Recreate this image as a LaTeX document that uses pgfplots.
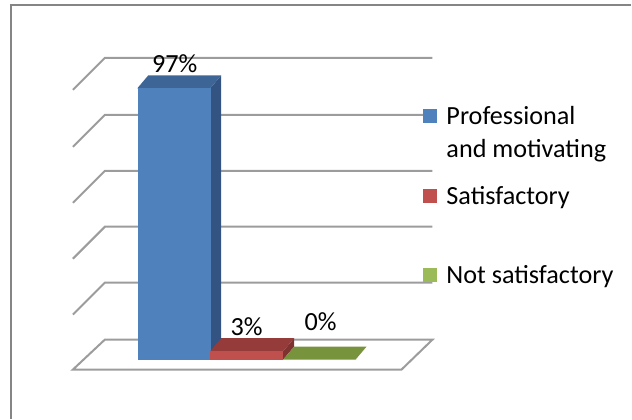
\documentclass[border=0pt]{standalone}
\usepackage{pgfplots}
\pgfplotsset{compat=1.18}
\usepackage{fontspec}
\setmainfont{Carlito}

\definecolor{blueF}{HTML}{4F81BD}
\definecolor{blueT}{HTML}{3D6596}
\definecolor{blueS}{HTML}{335482}
\definecolor{redF}{HTML}{C0504D}
\definecolor{redT}{HTML}{953B39}
\definecolor{redS}{HTML}{7E3331}
\definecolor{greenT}{HTML}{77933C}
\definecolor{greenL}{HTML}{9BBB59}
\definecolor{gridc}{HTML}{9C9C9C}
\definecolor{framec}{HTML}{858585}

\begin{document}
\fontsize{26.2bp}{33bp}\selectfont
\begin{tikzpicture}
\begin{axis}[
    scale only axis,
    width=632bp, height=419bp,
    xmin=0, xmax=632,
    ymin=-21.071, ymax=128.571,
    hide axis,
    clip=false,
    /pgf/number format/assume math mode=true,
    legend cell align=left,
    legend style={
        at={(axis cs:423,90.0)}, anchor=north west,
        draw=none, fill=none, inner sep=0pt, outer sep=0pt,
        row sep=62.5bp,
        nodes={inner sep=0pt, text height=17bp, text depth=0pt},
        /tikz/every odd column/.style={column sep=9bp},
    },
]
% page size and chart frame
\addplot[draw=none, forget plot] coordinates {(0,-21.071) (632,128.571)};
\addplot[framec, line width=1.5bp, forget plot] coordinates {(11,-21.071) (11,126.8) (632,126.8)};

% floor
\addplot[gridc, line width=2bp, fill=white, forget plot]
    coordinates {(105,7.14) (433,7.14) (402,-3.57) (73,-3.57)} -- cycle;

% back wall gridlines (20, 40, 60, 80, 100 %)
\addplot[gridc, line width=2bp, forget plot] coordinates {(73,16.07) (105,27.5) (433,27.5)};
\addplot[gridc, line width=2bp, forget plot] coordinates {(73,36.07) (105,47.5) (433,47.5)};
\addplot[gridc, line width=2bp, forget plot] coordinates {(73,56.07) (105,67.5) (433,67.5)};
\addplot[gridc, line width=2bp, forget plot] coordinates {(73,76.07) (105,87.5) (433,87.5)};
\addplot[gridc, line width=2bp, forget plot] coordinates {(73,96.43) (105,107.86) (433,107.86)};

% Professional and motivating: 97
\addplot[fill=blueS, draw=none, forget plot]
    coordinates {(210.5,0) (210.5,97) (221.5,101.64) (221.5,4.64)} -- cycle;
\addplot[fill=blueT, draw=none, forget plot]
    coordinates {(137.5,97) (210.5,97) (221.5,101.64) (148.5,101.64)} -- cycle;
\addplot[ybar, bar width=73, bar shift=0pt, fill=blueF, draw=none,
    legend image code/.code={\fill[blueF] (0bp,-7bp) rectangle (15bp,7bp);},
    nodes near coords={\pgfmathprintnumber{\pgfplotspointmeta}\%},
    every node near coord/.append style={anchor=base, yshift=16bp, text=black}]
    coordinates {(175,97)};
\addlegendentry{\begin{tabular}[t]{@{}l@{}}Professional\\and motivating\end{tabular}}

% Satisfactory: 3
\addplot[fill=redS, draw=none, forget plot]
    coordinates {(283.5,0) (283.5,3) (294.5,7.64) (294.5,4.64)} -- cycle;
\addplot[fill=redT, draw=none, forget plot]
    coordinates {(210.5,3) (283.5,3) (294.5,7.64) (221.5,7.64)} -- cycle;
\addplot[ybar, bar width=73, bar shift=0pt, fill=redF, draw=none,
    legend image code/.code={\fill[redF] (0bp,-7bp) rectangle (15bp,7bp);},
    nodes near coords={\pgfmathprintnumber{\pgfplotspointmeta}\%},
    every node near coord/.append style={anchor=base, yshift=16bp, text=black}]
    coordinates {(247,3)};
\addlegendentry{Satisfactory}

% Not satisfactory: 0
\addplot[fill=greenT, draw=none, forget plot]
    coordinates {(283.5,0) (356,0) (367,4.64) (294.5,4.64)} -- cycle;
\addplot[ybar, bar width=73, bar shift=0pt, fill=greenL, draw=none,
    legend image code/.code={\fill[greenL] (0bp,-7bp) rectangle (15bp,7bp);},
    nodes near coords={\pgfmathprintnumber{\pgfplotspointmeta}\%},
    every node near coord/.append style={anchor=base, yshift=29bp, text=black}]
    coordinates {(321,0)};
\addlegendentry{Not satisfactory}
\end{axis}
\end{tikzpicture}
\end{document}
